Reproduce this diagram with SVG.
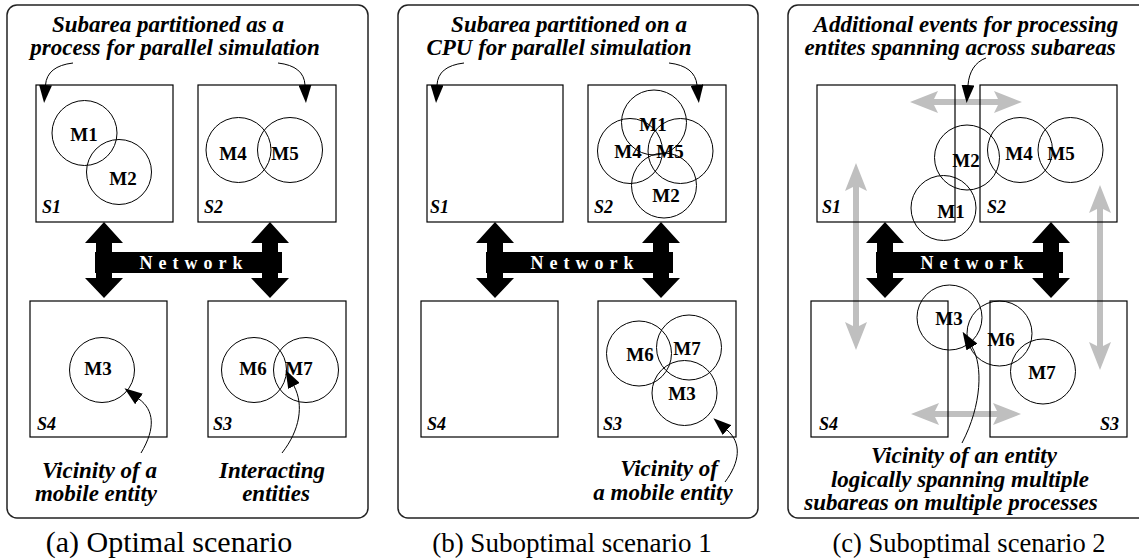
<svg xmlns="http://www.w3.org/2000/svg" xmlns:xlink="http://www.w3.org/1999/xlink" width="1139" height="560" viewBox="0 0 1139 560">
  <style>
    text { font-family: "Liberation Serif", "Times New Roman", serif; fill: #000; }
    .panel { fill: none; stroke: #222; stroke-width: 1.5; }
    .box { fill: none; stroke: #000; stroke-width: 1.2; }
    .vic { fill: none; stroke: #000; stroke-width: 1; }
    .m { font-weight: bold; font-size: 19px; text-anchor: middle; }
    .s { font-weight: bold; font-style: italic; font-size: 18px; }
    .note { font-weight: bold; font-style: italic; font-size: 23px; text-anchor: middle; }
    .cap { text-anchor: middle; }
    .nettext { font-weight: bold; font-size: 18px; letter-spacing: 6px; text-anchor: middle; fill: #fff; }
    .grey { fill: #bfbfbf; }
    .lead { fill: none; stroke: #000; stroke-width: 1; marker-end: url(#head); }
  </style>
  <defs>
    <marker id="head" viewBox="0 0 18 13" refX="0" refY="6.5" markerWidth="18" markerHeight="13" markerUnits="userSpaceOnUse" orient="auto">
      <path d="M0 0 L18 6.5 L0 13 Z" fill="#000"/>
    </marker>
    <!-- network bar with its two bidirectional links up and down -->
    <g id="network-shape">
      <path fill="#000" d="M104 222 L123 243 L112 243 L112 252 L262 252 L262 243 L251 243 L270 222 L289 243 L278 243 L278 252 L282 252 L282 273 L278 273 L278 278 L289 278 L270 298 L251 278 L262 278 L262 273 L112 273 L112 278 L123 278 L104 298 L85 278 L96 278 L96 273 L95 273 L95 252 L96 252 L96 243 L85 243 Z"/>
      <text class="nettext" x="194" y="269">Network</text>
    </g>
  </defs>

  <rect width="1139" height="560" fill="#fff"/>

  <!-- (a) optimal scenario -->
  <g id="panel-a">
    <rect class="panel" x="7" y="5" width="361" height="513" rx="10"/>
    <text class="note" x="168" y="32">Subarea partitioned as a</text>
    <text class="note" x="175" y="55">process for parallel simulation</text>
    <g id="a-S1"><rect class="box" x="36" y="85" width="137" height="137"/><text class="s" x="42" y="213">S1</text></g>
    <g id="a-S2"><rect class="box" x="198" y="85" width="138" height="137"/><text class="s" x="204" y="213">S2</text></g>
    <g id="a-S4"><rect class="box" x="30" y="301" width="137" height="136"/><text class="s" x="37" y="430">S4</text></g>
    <g id="a-S3"><rect class="box" x="208" y="301" width="138" height="136"/><text class="s" x="213" y="430">S3</text></g>
    <g id="a-M1"><circle class="vic" cx="84.5" cy="133" r="32.5"/><text class="m" x="84" y="141">M1</text></g>
    <g id="a-M2"><circle class="vic" cx="119" cy="172" r="32.5"/><text class="m" x="123" y="185">M2</text></g>
    <g id="a-M4"><circle class="vic" cx="238.5" cy="150" r="32.5"/><text class="m" x="233" y="160">M4</text></g>
    <g id="a-M5"><circle class="vic" cx="290" cy="150" r="32.5"/><text class="m" x="285" y="160">M5</text></g>
    <g id="a-M3"><circle class="vic" cx="102" cy="370" r="32.5"/><text class="m" x="98" y="375">M3</text></g>
    <g id="a-M6"><circle class="vic" cx="254" cy="370" r="32.5"/><text class="m" x="253" y="375">M6</text></g>
    <g id="a-M7"><circle class="vic" cx="306" cy="370" r="32.5"/><text class="m" x="299" y="375">M7</text></g>
    <g id="a-network"><use xlink:href="#network-shape"/></g>
    <text class="note" x="157" y="478" style="text-anchor:end">Vicinity of a</text>
    <text class="note" x="157" y="501" style="text-anchor:end">mobile entity</text>
    <text class="note" x="272" y="478">Interacting</text>
    <text class="note" x="276" y="501">entities</text>
  </g>

  <!-- (b) suboptimal scenario 1 -->
  <g id="panel-b">
    <rect class="panel" x="398" y="5" width="360" height="513" rx="10"/>
    <text class="note" x="569" y="32">Subarea partitioned on a</text>
    <text class="note" x="559" y="55">CPU for parallel simulation</text>
    <g id="b-S1"><rect class="box" x="427" y="85" width="136" height="137"/><text class="s" x="430" y="213">S1</text></g>
    <g id="b-S2"><rect class="box" x="588" y="85" width="138" height="137"/><text class="s" x="594" y="213">S2</text></g>
    <g id="b-S4"><rect class="box" x="421" y="301" width="137" height="136"/><text class="s" x="427" y="430">S4</text></g>
    <g id="b-S3"><rect class="box" x="598" y="301" width="138" height="136"/><text class="s" x="603" y="430">S3</text></g>
    <g id="b-M1"><circle class="vic" cx="654" cy="122.5" r="32.5"/><text class="m" x="653" y="131">M1</text></g>
    <g id="b-M4"><circle class="vic" cx="630" cy="151" r="32.5"/><text class="m" x="628" y="158">M4</text></g>
    <g id="b-M5"><circle class="vic" cx="680.5" cy="151" r="32.5"/><text class="m" x="670" y="158">M5</text></g>
    <g id="b-M2"><circle class="vic" cx="664" cy="185.5" r="32.5"/><text class="m" x="666" y="202">M2</text></g>
    <g id="b-M6"><circle class="vic" cx="639" cy="353.5" r="32.5"/><text class="m" x="640" y="361">M6</text></g>
    <g id="b-M7"><circle class="vic" cx="689" cy="347.5" r="32.5"/><text class="m" x="687" y="355">M7</text></g>
    <g id="b-M3"><circle class="vic" cx="684.5" cy="393" r="32.5"/><text class="m" x="682" y="400">M3</text></g>
    <g id="b-network"><use xlink:href="#network-shape" transform="translate(391 0)"/></g>
    <text class="note" x="669" y="476">Vicinity of</text>
    <text class="note" x="663" y="500">a mobile entity</text>
  </g>

  <!-- (c) suboptimal scenario 2 -->
  <g id="panel-c">
    <rect class="panel" x="788" y="5" width="361" height="513" rx="10"/>
    <text class="note" x="966" y="32">Additional events for processing</text>
    <text class="note" x="960" y="55">entites spanning across subareas</text>
    <!-- grey inter-process event flows -->
    <g id="c-events">
      <path class="grey" d="M910 102 L938 91 L934 99 L998 99 L994 91 L1022 102 L994 113 L998 105 L934 105 L938 113 Z"/>
      <path class="grey" d="M911 414 L939 403 L935 411 L997 411 L993 403 L1021 414 L993 425 L997 417 L935 417 L939 425 Z"/>
      <path class="grey" d="M856 163 L867 191 L859 187 L859 326 L867 322 L856 350 L845 322 L853 326 L853 187 L845 191 Z"/>
      <path class="grey" d="M1100 185 L1111 213 L1103 209 L1103 346 L1111 342 L1100 370 L1089 342 L1097 346 L1097 209 L1089 213 Z"/>
    </g>
    <g id="c-S1"><rect class="box" x="817" y="85" width="138" height="137"/><text class="s" x="822" y="213">S1</text></g>
    <g id="c-S2"><rect class="box" x="980" y="85" width="137" height="137"/><text class="s" x="987" y="213">S2</text></g>
    <g id="c-S4"><rect class="box" x="811" y="301" width="137" height="136"/><text class="s" x="819" y="430">S4</text></g>
    <g id="c-S3"><rect class="box" x="990" y="301" width="137" height="136"/><text class="s" x="1119" y="430" style="text-anchor:end">S3</text></g>
    <g id="c-M2"><circle class="vic" cx="967" cy="157.5" r="32.5"/><text class="m" x="966" y="167">M2</text></g>
    <g id="c-M1"><circle class="vic" cx="943.5" cy="208" r="32.5"/><text class="m" x="951" y="218">M1</text></g>
    <g id="c-M4"><circle class="vic" cx="1020" cy="150" r="32.5"/><text class="m" x="1019" y="160">M4</text></g>
    <g id="c-M5"><circle class="vic" cx="1070.5" cy="150" r="32.5"/><text class="m" x="1061" y="160">M5</text></g>
    <g id="c-M3"><circle class="vic" cx="949.5" cy="317.5" r="32.5"/><text class="m" x="949" y="325">M3</text></g>
    <g id="c-M6"><circle class="vic" cx="999.5" cy="333.5" r="32.5"/><text class="m" x="1001" y="346">M6</text></g>
    <g id="c-M7"><circle class="vic" cx="1043" cy="371.5" r="32.5"/><text class="m" x="1042" y="379">M7</text></g>
    <g id="c-network"><use xlink:href="#network-shape" transform="translate(781 0)"/></g>
    <text class="note" x="964" y="463">Vicinity of an entity</text>
    <text class="note" x="960" y="487">logically spanning multiple</text>
    <text class="note" x="951" y="510">subareas on multiple processes</text>
  </g>

  <!-- callout leaders -->
  <g id="connectors">
    <path class="lead" d="M73 63 Q47 66 45.5 85"/>
    <path class="lead" d="M278 63 Q304 66 305 85"/>
    <path class="lead" d="M141 453 C156 428 154 410 139 399"/>
    <path class="lead" d="M282 453 C300 430 304 405 294 386"/>
    <path class="lead" d="M464 63 Q438 66 437 85"/>
    <path class="lead" d="M669 63 Q695 66 697 85"/>
    <path class="lead" d="M725 482 C740 462 742 443 727 430"/>
    <path class="lead" d="M986 58 C975 62 969 72 968 85"/>
    <path class="lead" d="M962 443 C982 405 983 365 972 347"/>
  </g>

  <!-- captions -->
  <text class="cap" x="169" y="552" font-size="30">(a) Optimal scenario</text>
  <text class="cap" x="572" y="552" font-size="27">(b) Suboptimal scenario 1</text>
  <text class="cap" x="969" y="552" font-size="26.5">(c) Suboptimal scenario 2</text>
</svg>
